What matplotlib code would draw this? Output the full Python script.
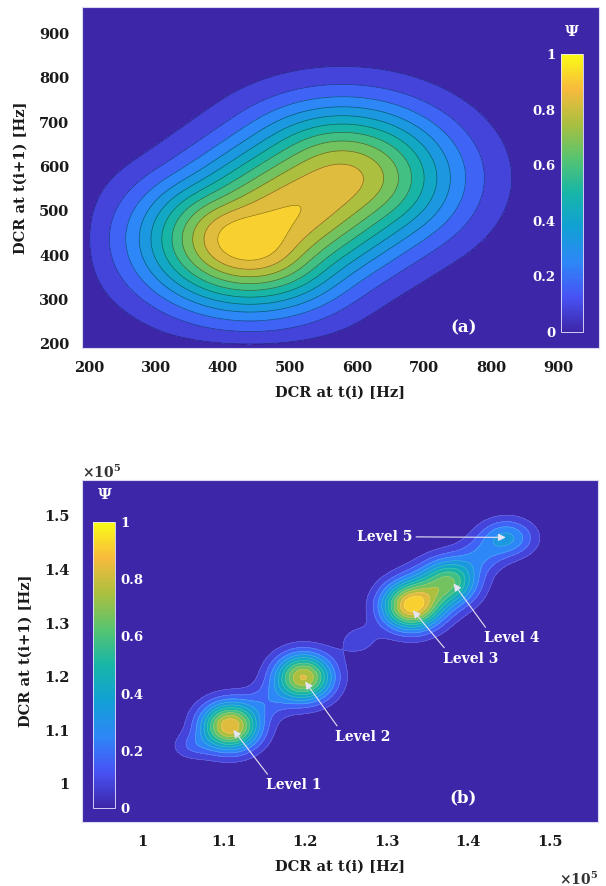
import numpy as np
import matplotlib.pyplot as plt
from matplotlib.colors import LinearSegmentedColormap, Normalize
from matplotlib.cm import ScalarMappable
from matplotlib.ticker import FuncFormatter

plt.rcParams['font.family'] = ['DejaVu Serif']
plt.rcParams['font.weight'] = 'bold'
plt.rcParams['axes.labelweight'] = 'bold'
plt.rcParams['mathtext.fontset'] = 'dejavuserif'

# parula-like colour map
parula_pos = [0.0, 0.125, 0.25, 0.375, 0.5, 0.625, 0.75, 0.875, 1.0]
parula_rgb = [(0.2422, 0.1504, 0.6603), (0.2810, 0.3228, 0.9579),
              (0.1786, 0.5289, 0.9682), (0.0689, 0.6279, 0.8348),
              (0.0900, 0.7100, 0.6600), (0.3412, 0.7681, 0.4404),
              (0.6691, 0.7499, 0.2475), (0.9722, 0.7310, 0.2389),
              (0.9769, 0.9839, 0.0805)]
parula = LinearSegmentedColormap.from_list('parula', list(zip(parula_pos, parula_rgb)))

# panel (a): ridge of the DCR density (nodes with height and width)
a_rx = [440, 470, 578]
a_ry = [436, 466, 574]
a_rh = [1.0, 0.91, 0.85]
a_rs = [108, 110, 114]
a_smooth = 25
a_lim = [190, 960]
a_ticks = [200, 300, 400, 500, 600, 700, 800, 900]

# panel (b): the five DCR levels
b_cx = [110800, 119800, 133000, 137800, 144700]
b_cy = [110800, 119900, 133200, 138000, 145900]
b_h = [1.0, 0.92, 1.0, 0.6, 0.38]
b_sx = [2500, 2500, 2500, 2400, 2400]
b_sy = [3100, 3100, 3100, 3000, 2500]
# low bridges between the levels
b_bridge_x = [106000, 115500, 126500, 136000, 141500]
b_bridge_y = [107000, 115500, 126800, 136200, 142500]
b_bridge_h = [0.14, 0.14, 0.12, 0.15, 0.18]
b_bridge_sx = [1800, 2000, 1900, 3000, 2000]
b_bridge_sy = [1800, 2400, 2300, 3400, 2400]
b_xlim = [92650, 155900]
b_ylim = [92900, 156700]
b_ticks = [100000, 110000, 120000, 130000, 140000, 150000]

b_labels = ['Level 1', 'Level 2', 'Level 3', 'Level 4', 'Level 5']
b_text_x = [118600, 127100, 140300, 145300, 129700]
b_text_y = [99800, 108800, 123400, 127200, 146100]
b_tip_x = [111200, 120000, 133200, 138200, 144600]
b_tip_y = [110100, 119100, 132400, 137400, 146000]

levels = np.linspace(0, 1, 13)
band_colors = [parula(l) for l in levels[:-1]]
tick_fs = 10.5
lab_fs = 10.5


def gauss(X, Y, cx, cy, sx, sy):
    return np.exp(-((X - cx) ** 2 / (2 * sx ** 2) + (Y - cy) ** 2 / (2 * sy ** 2)))


def ridge(X, Y, xs, ys, hs, ss):
    # max over the segments of a tube whose height and width follow the nodes
    Z = np.zeros_like(X)
    for i in range(len(xs) - 1):
        vx, vy = xs[i + 1] - xs[i], ys[i + 1] - ys[i]
        t = ((X - xs[i]) * vx + (Y - ys[i]) * vy) / (vx * vx + vy * vy)
        t = np.clip(t, 0, 1)
        d2 = (X - xs[i] - t * vx) ** 2 + (Y - ys[i] - t * vy) ** 2
        h = hs[i] + t * (hs[i + 1] - hs[i])
        s = ss[i] + t * (ss[i + 1] - ss[i])
        Z = np.maximum(Z, h * np.exp(-d2 / (2 * s * s)))
    return Z


def smooth(Z, step, width):
    # separable gaussian smoothing, width in data units
    n = int(3 * width / step)
    k = np.exp(-0.5 * (np.arange(-n, n + 1) * step / width) ** 2)
    k = k / k.sum()
    Z = np.apply_along_axis(lambda r: np.convolve(r, k, mode='same'), 0, Z)
    Z = np.apply_along_axis(lambda r: np.convolve(r, k, mode='same'), 1, Z)
    return Z


def add_cbar(fig, rect, side):
    cax = fig.add_axes(rect)
    cb = fig.colorbar(ScalarMappable(Normalize(0, 1), parula), cax=cax)
    cb.set_ticks([0, 0.2, 0.4, 0.6, 0.8, 1])
    cb.set_ticklabels(['0', '0.2', '0.4', '0.6', '0.8', '1'])
    cb.outline.set_edgecolor('#e8e8ff')
    cb.outline.set_linewidth(0.6)
    cax.yaxis.set_ticks_position(side)
    cax.tick_params(length=0, colors='white', labelsize=9.5, pad=4)
    return cax


def style_axes(ax):
    ax.tick_params(length=0, labelsize=tick_fs, pad=9, labelcolor='#1a1a1a')
    ax.set_xlabel('DCR at t(i) [Hz]', fontsize=lab_fs, labelpad=8, color='#1a1a1a')
    ax.set_ylabel('DCR at t(i+1) [Hz]', fontsize=lab_fs, labelpad=8, color='#1a1a1a')
    for s in ax.spines.values():
        s.set_color('#d8d8f0')


fig = plt.figure(figsize=(6.06, 8.86), dpi=100)

# ---- (a)
ax1 = fig.add_axes([0.1353, 0.6072, 0.8531, 0.3849])
xa = np.linspace(a_lim[0], a_lim[1], 500)
Xa, Ya = np.meshgrid(xa, xa)
Za = ridge(Xa, Ya, a_rx, a_ry, a_rh, a_rs)
Za = smooth(Za, xa[1] - xa[0], a_smooth)
Za = Za / Za.max()
ax1.contourf(Xa, Ya, Za, levels=levels, colors=band_colors)
ax1.contour(Xa, Ya, Za, levels=levels[1:-1], colors='black', linewidths=0.5, alpha=0.45)
ax1.set_xlim(a_lim)
ax1.set_ylim(a_lim)
ax1.set_xticks(a_ticks)
ax1.set_yticks(a_ticks)
style_axes(ax1)
ax1.text(759, 236, '(a)', color='white', fontsize=12, ha='center', va='center')
add_cbar(fig, [0.9257, 0.6253, 0.0363, 0.3138], 'left')
fig.text(572 / 606, 1 - 32 / 886, 'Ψ', color='white', fontsize=11, ha='center', va='center')

# ---- (b)
ax2 = fig.add_axes([0.1353, 0.0722, 0.8515, 0.3860])
xb = np.linspace(b_xlim[0], b_xlim[1], 500)
yb = np.linspace(b_ylim[0], b_ylim[1], 500)
Xb, Yb = np.meshgrid(xb, yb)
Zb = np.zeros_like(Xb)
for i in range(len(b_cx)):
    Zb += b_h[i] * gauss(Xb, Yb, b_cx[i], b_cy[i], b_sx[i], b_sy[i])
for i in range(len(b_bridge_x)):
    Zb += b_bridge_h[i] * gauss(Xb, Yb, b_bridge_x[i], b_bridge_y[i], b_bridge_sx[i], b_bridge_sy[i])
Zb = Zb / Zb.max()
ax2.contourf(Xb, Yb, Zb, levels=levels, colors=band_colors)
ax2.contour(Xb, Yb, Zb, levels=levels[1:-1], colors='white', linewidths=0.5, alpha=0.2)
ax2.set_xlim(b_xlim)
ax2.set_ylim(b_ylim)
ax2.set_xticks(b_ticks)
ax2.set_yticks(b_ticks)
fmt = FuncFormatter(lambda v, p: '%g' % (v / 1e5))
ax2.xaxis.set_major_formatter(fmt)
ax2.yaxis.set_major_formatter(fmt)
style_axes(ax2)
fig.text(82 / 606, 1 - 472 / 886, r'$\times10^5$', fontsize=10, color='#333333',
         ha='left', va='center')
fig.text(598 / 606, 1 - 879 / 886, r'$\times10^5$', fontsize=10, color='#333333',
         ha='right', va='center')
for i, lab in enumerate(b_labels):
    rel = (1.0, 0.5) if i == 4 else (0.1, 0.9)
    ax2.annotate(lab, xy=(b_tip_x[i], b_tip_y[i]), xytext=(b_text_x[i], b_text_y[i]),
                 color='white', fontsize=10, ha='center', va='center',
                 arrowprops=dict(arrowstyle='-|>', color='#e4e4f4', lw=0.8,
                                 mutation_scale=11, relpos=rel, shrinkA=1, shrinkB=0))
ax2.text(139300, 97400, '(b)', color='white', fontsize=12, ha='center', va='center')
add_cbar(fig, [0.1535, 0.0880, 0.0363, 0.3228], 'right')
fig.text(105 / 606, 1 - 495 / 886, 'Ψ', color='white', fontsize=11, ha='center', va='center')

fig.savefig('out.png', dpi=100)
